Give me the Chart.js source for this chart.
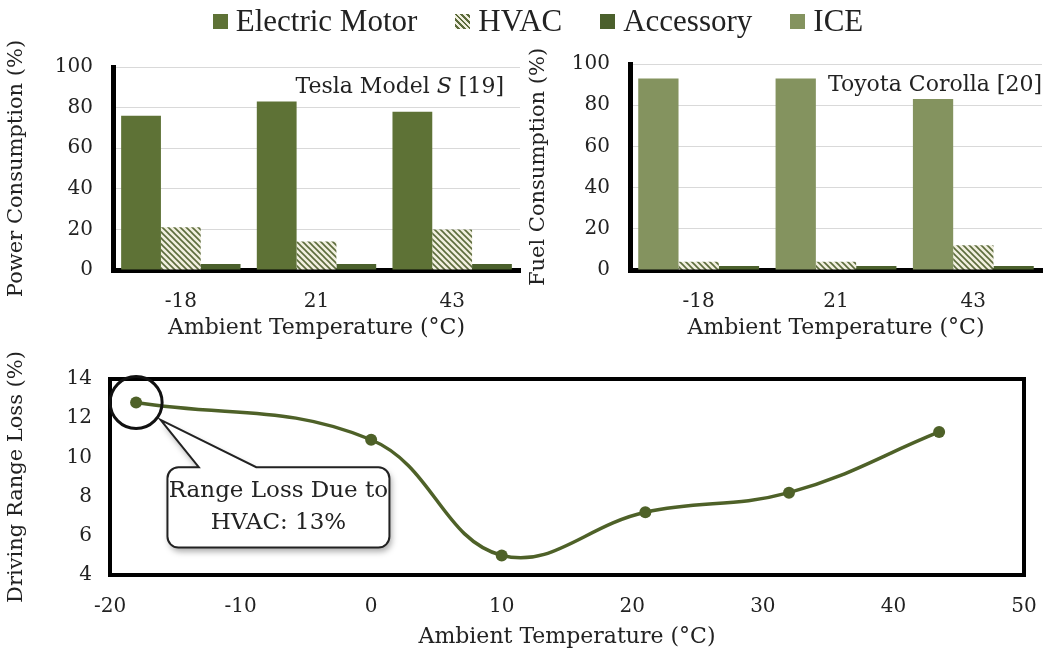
<!DOCTYPE html>
<html>
<head>
<meta charset="utf-8">
<script src="https://cdn.jsdelivr.net/npm/chart.js@4.4.1/dist/chart.umd.min.js"></script>
<style>
  body { margin: 0; background: #fff; width: 1044px; height: 658px; position: relative; overflow: hidden; }
  .wrap { position: absolute; }
  #legend {
    position: absolute; top: 3px; left: 32px; width: 1012px; z-index: 2;
    display: flex; justify-content: center; align-items: center; gap: 38px;
    font-family: "Liberation Serif", serif; font-size: 31px; color: #222;
  }
  #legend span.item { display: flex; align-items: center; gap: 8px; }
  #legend i { display: inline-block; width: 15px; height: 15px; }
</style>
</head>
<body>
<div id="legend">
  <span class="item"><i style="background:#5e7236"></i>Electric Motor</span>
  <span class="item"><i style="background:repeating-linear-gradient(45deg,#f1efdf 0 2px,#5c6c3c 2px 4px)"></i>HVAC</span>
  <span class="item"><i style="background:#4b602c"></i>Accessory</span>
  <span class="item"><i style="background:#84935f"></i>ICE</span>
</div>
<div class="wrap" style="left:0;top:35px;width:522px;height:310px"><canvas id="tesla"></canvas></div>
<div class="wrap" style="left:522px;top:32px;width:522px;height:313px"><canvas id="corolla"></canvas></div>
<div class="wrap" style="left:0;top:349px;width:1044px;height:309px"><canvas id="range"></canvas></div>
<script>
// data
const tempCats = ["-18", "21", "43"];
const teslaMotor = [76, 83, 78];
const teslaHvac = [21, 14, 20];
const teslaAccessory = [3, 3, 3];
const corollaIce = [93, 93, 83];
const corollaHvac = [4, 4, 12];
const corollaAccessory = [2, 2, 2];
const pctTicks = [0, 20, 40, 60, 80, 100];

const rangeTemps = [-18, 0, 10, 21, 32, 43.5];
const rangeLoss = [12.8, 10.9, 5.0, 7.2, 8.2, 11.3];

const serif = "'DejaVu Serif', serif";
const motorColor = "#5e7236";
const accColor = "#4b602c";
const iceColor = "#84935f";
const lineColor = "#4e6128";

// striped fill for HVAC
function stripes() {
  var c = document.createElement("canvas");
  c.width = 6; c.height = 6;
  var g = c.getContext("2d");
  g.fillStyle = "#f1efdf";
  g.fillRect(0, 0, 6, 6);
  g.strokeStyle = "#5c6c3c";
  g.lineWidth = 1.6;
  g.beginPath();
  g.moveTo(-1, -1); g.lineTo(7, 7);
  g.moveTo(-4, 2); g.lineTo(4, 10);
  g.moveTo(2, -4); g.lineTo(10, 4);
  g.stroke();
  return g.createPattern(c, "repeat");
}
const hvacFill = stripes();

// label in the top right corner of a bar panel, parts may be italic
const cornerNote = {
  id: "cornerNote",
  afterDraw(chart, args, opts) {
    var ctx = chart.ctx, area = chart.chartArea;
    ctx.save();
    ctx.fillStyle = "#222";
    ctx.textBaseline = "middle";
    var widths = opts.parts.map(function (p) {
      ctx.font = (p.italic ? "italic " : "") + opts.size + "px " + serif;
      return ctx.measureText(p.text).width;
    });
    var total = widths.reduce(function (a, b) { return a + b; }, 0);
    var x = area.right - opts.right - total;
    opts.parts.forEach(function (p, i) {
      ctx.font = (p.italic ? "italic " : "") + opts.size + "px " + serif;
      ctx.fillText(p.text, x, area.top + opts.top);
      x += widths[i];
    });
    ctx.restore();
  }
};

function barChart(id, datasets, yTitle, axisWidth, note) {
  return new Chart(document.getElementById(id), {
    type: "bar",
    data: { labels: tempCats, datasets: datasets },
    plugins: [cornerNote],
    options: {
      responsive: true,
      maintainAspectRatio: false,
      animation: false,
      layout: { padding: { top: 10, right: 2, left: 0, bottom: 0 } },
      datasets: { bar: { barPercentage: 1, categoryPercentage: 0.88 } },
      plugins: {
        legend: { display: false },
        tooltip: { enabled: false },
        cornerNote: note
      },
      scales: {
        y: {
          min: 0, max: 100,
          afterFit: function (s) { s.width = axisWidth; },
          afterBuildTicks: function (s) { s.ticks = pctTicks.map(function (v) { return { value: v }; }); },
          ticks: { color: "#222", padding: 20, font: { family: serif, size: 20 } },
          grid: { color: "#d9d9d9", drawTicks: false },
          border: { color: "#000", width: 5 },
          title: { display: true, text: yTitle, color: "#222", padding: { top: 4, bottom: 0 }, font: { family: serif, size: 21 } }
        },
        x: {
          afterFit: function (s) { s.height = 75; },
          ticks: { color: "#222", padding: 20, font: { family: serif, size: 20 } },
          grid: { display: false, drawTicks: false },
          border: { color: "#000", width: 5 },
          title: { display: true, text: "Ambient Temperature (\u00b0C)", color: "#222", padding: { top: 0, bottom: 4 }, font: { family: serif, size: 22 } }
        }
      }
    }
  });
}

barChart("tesla", [
  { label: "Electric Motor", data: teslaMotor, backgroundColor: motorColor },
  { label: "HVAC", data: teslaHvac, backgroundColor: hvacFill },
  { label: "Accessory", data: teslaAccessory, backgroundColor: accColor }
], "Power Consumption (%)", 113, {
  size: 22, right: 16, top: 20,
  parts: [{ text: "Tesla Model " }, { text: "S", italic: true }, { text: " [19]" }]
});

barChart("corolla", [
  { label: "ICE", data: corollaIce, backgroundColor: iceColor },
  { label: "HVAC", data: corollaHvac, backgroundColor: hvacFill },
  { label: "Accessory", data: corollaAccessory, backgroundColor: accColor }
], "Fuel Consumption (%)", 108, {
  size: 22, right: 0, top: 21,
  parts: [{ text: "Toyota Corolla [20]" }]
});

// box around the range plot plus the circled callout
const rangeDecor = {
  id: "rangeDecor",
  afterDatasetsDraw(chart) {
    var ctx = chart.ctx, a = chart.chartArea;
    var xs = chart.scales.x, ys = chart.scales.y;
    ctx.save();
    ctx.strokeStyle = "#000";
    ctx.lineWidth = 4;
    ctx.strokeRect(a.left, a.top, a.right - a.left, a.bottom - a.top);

    var cx = xs.getPixelForValue(rangeTemps[0]);
    var cy = ys.getPixelForValue(rangeLoss[0]);
    var r = 26;
    ctx.lineWidth = 3;
    ctx.strokeStyle = "#111";
    ctx.beginPath();
    ctx.arc(cx, cy, r, 0, Math.PI * 2);
    ctx.stroke();

    var left = xs.getPixelForValue(-15.6), right = xs.getPixelForValue(1.4);
    var top = ys.getPixelForValue(9.5), bottom = ys.getPixelForValue(5.4);
    var b1 = xs.getPixelForValue(-13.2), b2 = xs.getPixelForValue(-8.8);
    var mx = (b1 + b2) / 2, dx = mx - cx, dy = top - cy;
    var d = Math.sqrt(dx * dx + dy * dy);
    var tx = cx + dx / d * (r + 4), ty = cy + dy / d * (r + 4);
    var cr = 11;

    ctx.beginPath();
    ctx.moveTo(left + cr, top);
    ctx.lineTo(b1, top);
    ctx.lineTo(tx, ty);
    ctx.lineTo(b2, top);
    ctx.lineTo(right - cr, top);
    ctx.arcTo(right, top, right, top + cr, cr);
    ctx.lineTo(right, bottom - cr);
    ctx.arcTo(right, bottom, right - cr, bottom, cr);
    ctx.lineTo(left + cr, bottom);
    ctx.arcTo(left, bottom, left, bottom - cr, cr);
    ctx.lineTo(left, top + cr);
    ctx.arcTo(left, top, left + cr, top, cr);
    ctx.closePath();
    ctx.shadowColor = "rgba(0,0,0,0.35)";
    ctx.shadowBlur = 6;
    ctx.shadowOffsetX = 2;
    ctx.shadowOffsetY = 4;
    ctx.fillStyle = "#fff";
    ctx.fill();
    ctx.shadowColor = "transparent";
    ctx.lineWidth = 2;
    ctx.strokeStyle = "#222";
    ctx.stroke();

    ctx.fillStyle = "#222";
    ctx.font = "23px " + serif;
    ctx.textAlign = "center";
    ctx.textBaseline = "middle";
    var mid = (left + right) / 2;
    ctx.fillText("Range Loss Due to", mid, top + 24);
    ctx.fillText("HVAC: 13%", mid, top + 56);
    ctx.restore();
  }
};

new Chart(document.getElementById("range"), {
  type: "line",
  data: {
    datasets: [{
      label: "Driving Range Loss",
      data: rangeTemps.map(function (t, i) { return { x: t, y: rangeLoss[i] }; }),
      borderColor: lineColor,
      backgroundColor: lineColor,
      borderWidth: 3.5,
      tension: 0.4,
      pointRadius: 6,
      pointBackgroundColor: lineColor,
      pointBorderWidth: 0,
      clip: false
    }]
  },
  plugins: [rangeDecor],
  options: {
    responsive: true,
    maintainAspectRatio: false,
    animation: false,
    layout: { padding: { top: 18, right: 20, left: 0, bottom: 0 } },
    plugins: { legend: { display: false }, tooltip: { enabled: false } },
    scales: {
      x: {
        type: "linear", min: -20, max: 50,
        afterFit: function (s) { s.height = 83; s.paddingRight = 20; s.paddingLeft = 0; },
        ticks: { stepSize: 10, color: "#222", padding: 20, font: { family: serif, size: 20 } },
        grid: { display: false, drawTicks: false },
        border: { display: false },
        title: { display: true, text: "Ambient Temperature (\u00b0C)", color: "#222", padding: { top: 0, bottom: 8 }, font: { family: serif, size: 22 } }
      },
      y: {
        min: 4, max: 14,
        afterFit: function (s) { s.width = 110; },
        ticks: { stepSize: 2, color: "#222", padding: 18, font: { family: serif, size: 20 } },
        grid: { display: false, drawTicks: false },
        border: { display: false },
        title: { display: true, text: "Driving Range Loss (%)", color: "#222", padding: { top: 4, bottom: 0 }, font: { family: serif, size: 21 } }
      }
    }
  }
});
</script>
</body>
</html>
